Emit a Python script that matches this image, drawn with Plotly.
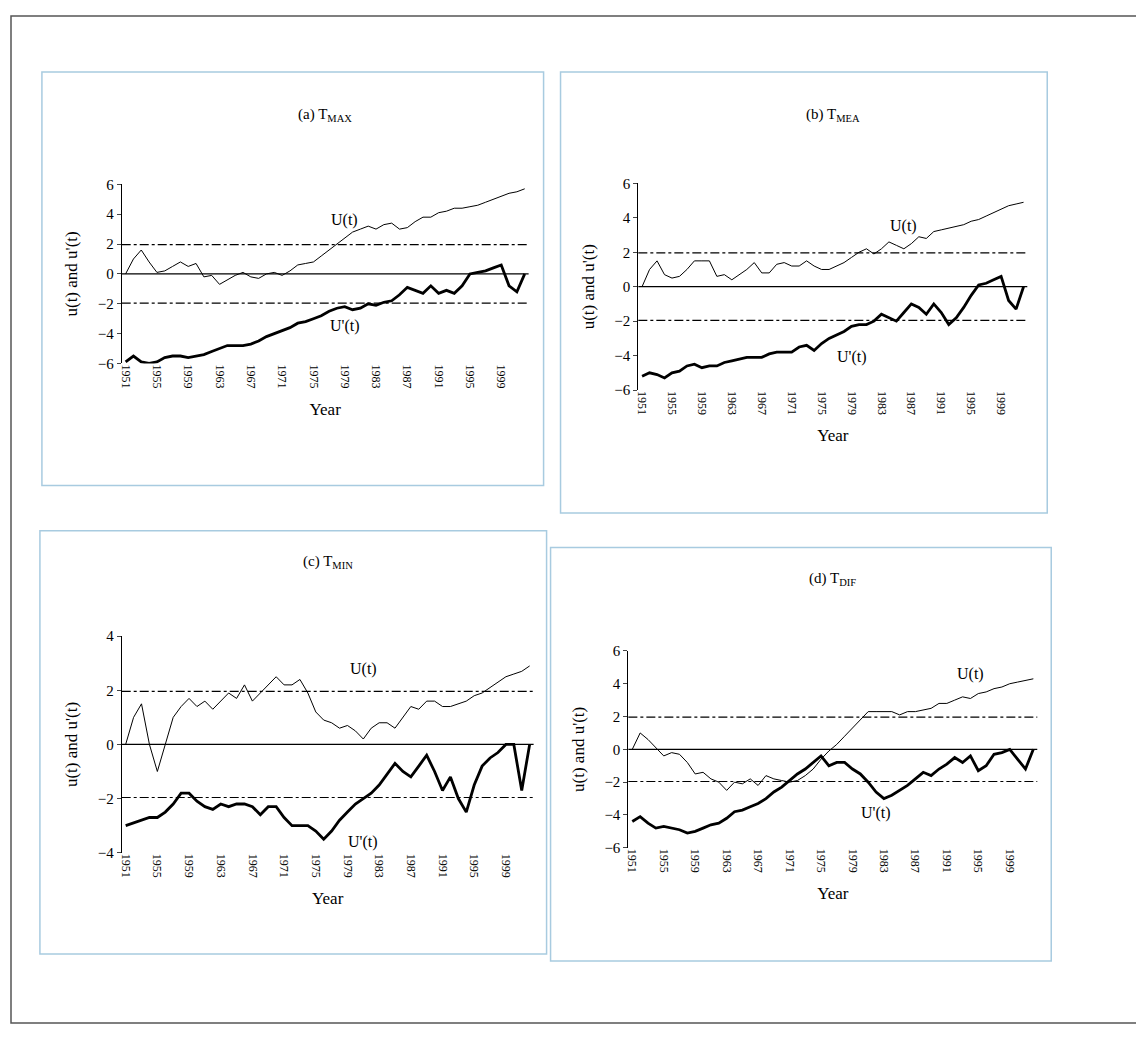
import plotly.graph_objects as go

years = list(range(1951, 2003))
tick_years = list(range(1951, 2003, 4))

u_max = [0, 1.0, 1.6, 0.8, 0.1, 0.2, 0.5, 0.8, 0.5, 0.7, -0.2, -0.1, -0.7, -0.4, -0.1, 0.1, -0.2, -0.3, 0, 0.1,
         -0.1, 0.2, 0.6, 0.7, 0.8, 1.2, 1.6, 2.0, 2.4, 2.8, 3.0, 3.2, 3.0, 3.3, 3.4, 3.0, 3.1, 3.5, 3.8, 3.8,
         4.1, 4.2, 4.4, 4.4, 4.5, 4.6, 4.8, 5.0, 5.2, 5.4, 5.5, 5.7]
ub_max = [-5.9, -5.5, -5.9, -6.0, -5.9, -5.6, -5.5, -5.5, -5.6, -5.5, -5.4, -5.2, -5.0, -4.8, -4.8, -4.8, -4.7, -4.5,
          -4.2, -4.0, -3.8, -3.6, -3.3, -3.2, -3.0, -2.8, -2.5, -2.3, -2.2, -2.4, -2.3, -2.0, -2.1, -1.9, -1.8, -1.4,
          -0.9, -1.1, -1.3, -0.8, -1.3, -1.1, -1.3, -0.8, 0.0, 0.1, 0.2, 0.4, 0.6, -0.8, -1.2, 0.0]
u_mea = [0, 1.0, 1.5, 0.7, 0.5, 0.6, 1.0, 1.5, 1.5, 1.5, 0.6, 0.7, 0.4, 0.7, 1.0, 1.4, 0.8, 0.8, 1.3, 1.4, 1.2,
         1.2, 1.5, 1.2, 1.0, 1.0, 1.2, 1.4, 1.7, 2.0, 2.2, 1.9, 2.2, 2.6, 2.4, 2.2, 2.5, 2.9, 2.8, 3.2, 3.3, 3.4,
         3.5, 3.6, 3.8, 3.9, 4.1, 4.3, 4.5, 4.7, 4.8, 4.9]
ub_mea = [-5.2, -5.0, -5.1, -5.3, -5.0, -4.9, -4.6, -4.5, -4.7, -4.6, -4.6, -4.4, -4.3, -4.2, -4.1, -4.1, -4.1, -3.9,
          -3.8, -3.8, -3.8, -3.5, -3.4, -3.7, -3.3, -3.0, -2.8, -2.6, -2.3, -2.2, -2.2, -2.0, -1.6, -1.8, -2.0, -1.5,
          -1.0, -1.2, -1.6, -1.0, -1.5, -2.2, -1.8, -1.2, -0.5, 0.1, 0.2, 0.4, 0.6, -0.8, -1.3, 0.0]
u_min = [0, 1.0, 1.5, 0, -1.0, 0, 1.0, 1.4, 1.7, 1.4, 1.6, 1.3, 1.6, 1.9, 1.7, 2.2, 1.6, 1.9, 2.2, 2.5, 2.2, 2.2,
         2.4, 1.9, 1.2, 0.9, 0.8, 0.6, 0.7, 0.5, 0.2, 0.6, 0.8, 0.8, 0.6, 1.0, 1.4, 1.3, 1.6, 1.6, 1.4, 1.4, 1.5,
         1.6, 1.8, 1.9, 2.1, 2.3, 2.5, 2.6, 2.7, 2.9]
ub_min = [-3.0, -2.9, -2.8, -2.7, -2.7, -2.5, -2.2, -1.8, -1.8, -2.1, -2.3, -2.4, -2.2, -2.3, -2.2, -2.2, -2.3, -2.6,
          -2.3, -2.3, -2.7, -3.0, -3.0, -3.0, -3.2, -3.5, -3.2, -2.8, -2.5, -2.2, -2.0, -1.8, -1.5, -1.1, -0.7, -1.0,
          -1.2, -0.8, -0.4, -1.0, -1.7, -1.2, -2.0, -2.5, -1.5, -0.8, -0.5, -0.3, 0.0, 0.0, -1.7, 0.0]
u_dif = [0, 1.0, 0.6, 0.1, -0.4, -0.2, -0.3, -0.8, -1.5, -1.4, -1.8, -2.0, -2.5, -2.0, -2.1, -1.8, -2.2, -1.6, -1.8,
         -1.9, -2.0, -1.9, -1.6, -1.2, -0.6, -0.1, 0.3, 0.8, 1.3, 1.8, 2.3, 2.3, 2.3, 2.3, 2.1, 2.3, 2.3, 2.4, 2.5,
         2.8, 2.8, 3.0, 3.2, 3.1, 3.4, 3.5, 3.7, 3.8, 4.0, 4.1, 4.2, 4.3]
ub_dif = [-4.4, -4.1, -4.5, -4.8, -4.7, -4.8, -4.9, -5.1, -5.0, -4.8, -4.6, -4.5, -4.2, -3.8, -3.7, -3.5, -3.3, -3.0,
          -2.6, -2.3, -1.9, -1.5, -1.2, -0.8, -0.4, -1.0, -0.8, -0.8, -1.2, -1.5, -2.0, -2.6, -3.0, -2.8, -2.5, -2.2,
          -1.8, -1.4, -1.6, -1.2, -0.9, -0.5, -0.8, -0.4, -1.3, -1.0, -0.3, -0.2, 0.0, -0.6, -1.2, 0.0]

# page offset correction (figure drawn inside body margin)
OX, OY = 11, 15
W, H = 1144 - OX - 2, 1040 - OY - 2
def px(x): return min(max((x - OX) / W, 0), 1)
def py(y): return min(max(1 - (y - OY) / H, 0), 1)

# (title, u, ub, ylim, yticks, plot box px [x0,x1,ytop,ybot], frame px, label positions)
panels = [
    ("(a) T<sub>MAX</sub>", u_max, ub_max, (-6, 6), [-6, -4, -2, 0, 2, 4, 6],
     (122, 530, 186, 368), (42, 545, 72, 492), (1979, 3.6), (1979, -3.5)),
    ("(b) T<sub>MEA</sub>", u_mea, ub_mea, (-6, 6), [-6, -4, -2, 0, 2, 4, 6],
     (640, 1030, 185, 395), (562, 1050, 72, 520), (1986, 3.5), (1979, -4.1)),
    ("(c) T<sub>MIN</sub>", u_min, ub_min, (-4, 4), [-4, -2, 0, 2, 4],
     (122, 535, 645, 865), (40, 548, 538, 968), (1981, 2.8), (1981, -3.6)),
    ("(d) T<sub>DIF</sub>", u_dif, ub_dif, (-6, 6), [-6, -4, -2, 0, 2, 4, 6],
     (630, 1040, 660, 860), (552, 1054, 555, 975), (1994, 4.6), (1982, -3.9)),
]

font = dict(family="Liberation Serif", color="black")
fig = go.Figure()
shapes, annotations = [], []
layout = {}
for i, (title, u, ub, ylim, yt, box, frame, lu, lub) in enumerate(panels):
    n = "" if i == 0 else str(i + 1)
    xa, ya = "x" + n, "y" + n
    x0, x1, yt0, yb0 = box
    layout["xaxis" + n] = dict(domain=[px(x0), px(x1)], anchor=ya, range=[1950.5, 2002.5],
                               tickvals=tick_years, tickangle=90, showgrid=False, zeroline=False,
                               showline=False, ticks="", tickfont=dict(size=12, **font),
                               title=dict(text="Year", font=dict(size=17, **font)))
    layout["yaxis" + n] = dict(domain=[py(yb0), py(yt0)], anchor=xa, range=list(ylim), tickvals=yt,
                               showgrid=False, zeroline=False, showline=True, linecolor="black",
                               ticks="outside", ticklen=4, tickfont=dict(size=15, **font),
                               title=dict(text="u(t) and u'(t)", font=dict(size=17, **font)))
    fig.add_trace(go.Scatter(x=years, y=u, mode="lines", line=dict(color="black", width=1),
                             xaxis=xa, yaxis=ya, showlegend=False))
    fig.add_trace(go.Scatter(x=years, y=ub, mode="lines", line=dict(color="black", width=2.8),
                             xaxis=xa, yaxis=ya, showlegend=False))
    for lvl, dash in [(0, "solid"), (1.96, "dashdot"), (-1.96, "dashdot")]:
        shapes.append(dict(type="line", xref=xa + " domain", yref=ya, x0=0, x1=1, y0=lvl, y1=lvl,
                           line=dict(color="black", width=1.2, dash=dash)))
    shapes.append(dict(type="rect", xref="paper", yref="paper", x0=px(frame[0]), x1=px(frame[1]),
                       y0=py(frame[3]), y1=py(frame[2]), line=dict(color="#a8cbe0", width=1.5)))
    annotations.append(dict(text=title, xref=xa + " domain", yref="paper", x=0.5, y=py(frame[2] + 32),
                            showarrow=False, font=dict(size=15, **font)))
    annotations.append(dict(text="U(t)", xref=xa, yref=ya, x=lu[0], y=lu[1], showarrow=False,
                            font=dict(size=16, **font)))
    annotations.append(dict(text="U'(t)", xref=xa, yref=ya, x=lub[0], y=lub[1], showarrow=False,
                            font=dict(size=16, **font)))

shapes.append(dict(type="rect", xref="paper", yref="paper", x0=0, x1=1, y0=0, y1=1,
                   line=dict(color="#555555", width=1.5)))

fig.update_layout(width=W, height=H, margin=dict(l=0, r=0, t=0, b=0), plot_bgcolor="white",
                  paper_bgcolor="white", shapes=shapes, annotations=annotations, **layout)
fig.write_html("out.html")
